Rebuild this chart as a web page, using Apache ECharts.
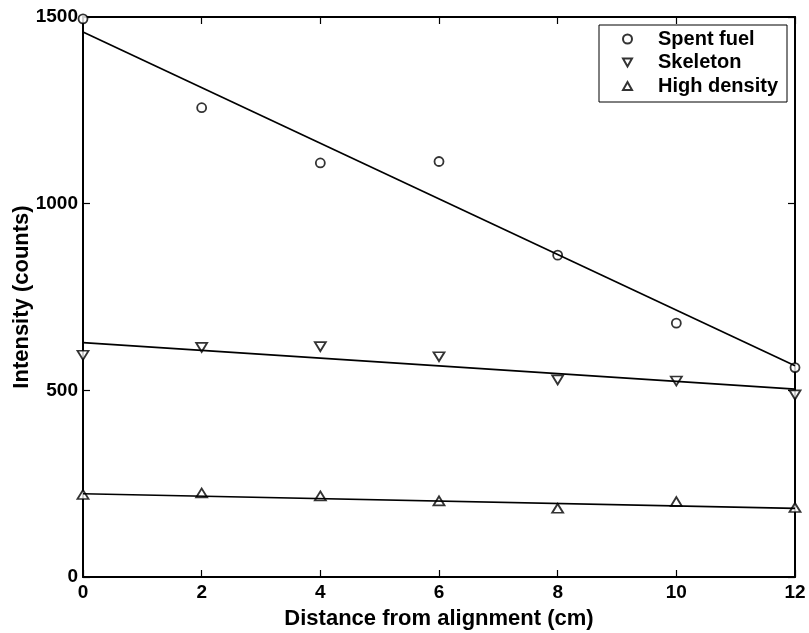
<!DOCTYPE html>
<html>
<head>
<meta charset="utf-8">
<script src="https://cdn.jsdelivr.net/npm/echarts@6/dist/echarts.min.js"></script>
<style>
  html, body { margin: 0; padding: 0; background: #fff; }
  #chart { width: 809px; height: 633px; }
</style>
</head>
<body>
<div id="chart"></div>
<script>
// ---- Data ----
const xValues = [0, 2, 4, 6, 8, 10, 12];
const spentFuel = [1495, 1257, 1109, 1113, 862, 680, 561];
const skeleton = [594, 615, 617, 590, 528, 525, 488];
const highDensity = [221, 225, 217, 204, 184, 202, 186];

// Fitted straight lines: end points
const fitX = [0, 12];
const spentFuelFit = [1460, 566];
const skeletonFit = [628, 503];
const highDensityFit = [223, 184];

const seriesNames = ['Spent fuel', 'Skeleton', 'High density'];
const xTicks = { min: 0, max: 12, interval: 2 };
const yTicks = { min: 0, max: 1500, interval: 500 };
const xTitle = 'Distance from alignment (cm)';
const yTitle = 'Intensity (counts)';

// ---- Build ----
const FONT = '"Liberation Sans", Arial, Helvetica, sans-serif';
const pairs = (xs, ys) => xs.map((x, i) => [x, ys[i]]);

const markerStyle = { color: '#fff', borderColor: '#000', borderWidth: 1.8 };
const DOWN_TRI = 'path://M0,0L10,0L5,9Z';
const UP_TRI = 'path://M5,0L10,9L0,9Z';

const lineStyle = { color: '#000', width: 1.7 };

function fitSeries(ys) {
  return {
    type: 'line',
    data: pairs(fitX, ys),
    symbol: 'none',
    silent: true,
    lineStyle: lineStyle,
    z: 4,
    animation: false
  };
}

const axisCommon = {
  axisLine: { show: true, onZero: false, lineStyle: { color: '#000', width: 2 } },
  axisTick: { show: true, inside: true, length: 7, lineStyle: { color: '#000', width: 1.2 } },
  splitLine: { show: false }
};
const plainNum = v => String(v);

const option = {
  backgroundColor: '#fff',
  animation: false,
  grid: { left: 83, right: 14, top: 17, bottom: 56, containLabel: false, outerBoundsMode: 'none' },
  legend: {
    data: seriesNames,
    orient: 'vertical',
    left: 599,
    top: 25,
    padding: [4, 9, 6, 23],
    itemGap: 3.5,
    itemWidth: 9,
    itemHeight: 9,
    borderColor: '#000',
    borderWidth: 1,
    backgroundColor: '#fff',
    textStyle: {
      fontFamily: FONT, fontWeight: 'bold', fontSize: 20, color: '#000',
      lineHeight: 20, padding: [0, 0, 0, 21]
    },
    selectedMode: false
  },
  xAxis: [
    Object.assign({}, axisCommon, {
      type: 'value', position: 'bottom',
      min: xTicks.min, max: xTicks.max, interval: xTicks.interval,
      axisLabel: { color: '#000', fontFamily: FONT, fontWeight: 'bold', fontSize: 19, margin: 6, formatter: plainNum },
      name: xTitle, nameLocation: 'middle', nameGap: 31, nameMoveOverlap: false,
      nameTextStyle: { color: '#000', fontFamily: FONT, fontWeight: 'bold', fontSize: 22 }
    }),
    Object.assign({}, axisCommon, {
      type: 'value', position: 'top',
      min: xTicks.min, max: xTicks.max, interval: xTicks.interval,
      axisLabel: { show: false }
    })
  ],
  yAxis: [
    Object.assign({}, axisCommon, {
      type: 'value', position: 'left',
      min: yTicks.min, max: yTicks.max, interval: yTicks.interval,
      axisLabel: { color: '#000', fontFamily: FONT, fontWeight: 'bold', fontSize: 19, margin: 5, formatter: plainNum },
      name: yTitle, nameLocation: 'middle', nameGap: 50, nameMoveOverlap: false,
      nameTextStyle: { color: '#000', fontFamily: FONT, fontWeight: 'bold', fontSize: 22 }
    }),
    Object.assign({}, axisCommon, {
      type: 'value', position: 'right',
      min: yTicks.min, max: yTicks.max, interval: yTicks.interval,
      axisLabel: { show: false }
    })
  ],
  series: [
    {
      name: seriesNames[0], type: 'scatter',
      data: pairs(xValues, spentFuel),
      symbol: 'circle', symbolSize: 9,
      itemStyle: markerStyle, z: 3
    },
    {
      name: seriesNames[1], type: 'scatter',
      data: pairs(xValues, skeleton),
      symbol: DOWN_TRI, symbolSize: [11, 9], symbolKeepAspect: false,
      itemStyle: markerStyle, z: 3
    },
    {
      name: seriesNames[2], type: 'scatter',
      data: pairs(xValues, highDensity),
      symbol: UP_TRI, symbolSize: [11, 9], symbolKeepAspect: false,
      itemStyle: markerStyle, z: 3
    },
    fitSeries(spentFuelFit),
    fitSeries(skeletonFit),
    fitSeries(highDensityFit)
  ]
};

const chart = echarts.init(document.getElementById('chart'), null, { renderer: 'canvas' });
chart.setOption(option);
</script>
</body>
</html>
